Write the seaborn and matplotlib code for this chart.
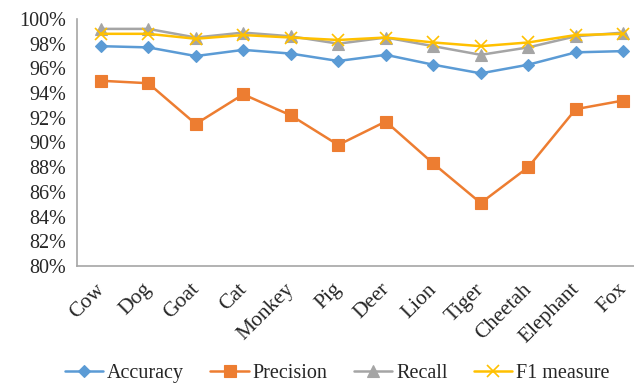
import matplotlib
matplotlib.use("Agg")
import matplotlib.pyplot as plt
import matplotlib.transforms as mtransforms
import seaborn as sns
import pandas as pd
from matplotlib.ticker import FuncFormatter, MultipleLocator, FixedLocator

# Datos
animales = ["Cow", "Dog", "Goat", "Cat", "Monkey", "Pig", "Deer", "Lion",
            "Tiger", "Cheetah", "Elephant", "Fox"]
accuracy = [97.8, 97.7, 97.0, 97.5, 97.2, 96.6, 97.1, 96.3, 95.6, 96.3, 97.3, 97.4]
precision = [95.0, 94.8, 91.5, 93.9, 92.2, 89.8, 91.7, 88.3, 85.1, 88.0, 92.7, 93.4]
recall = [99.2, 99.2, 98.5, 98.9, 98.6, 98.0, 98.5, 97.8, 97.1, 97.7, 98.6, 98.9]
f1 = [98.8, 98.8, 98.4, 98.7, 98.5, 98.3, 98.5, 98.1, 97.8, 98.1, 98.7, 98.8]

series = {
    "Accuracy": (accuracy, "#5B9BD5", "D", 6.5),
    "Precision": (precision, "#ED7D31", "s", 8),
    "Recall": (recall, "#A5A5A5", "^", 8),
    "F1 measure": (f1, "#FFC000", "x", 8),
}

sns.set_theme(style="white")
plt.rcParams["font.family"] = ["Liberation Serif", "DejaVu Serif"]

fig = plt.figure(figsize=(6.34, 3.83), dpi=100)
ax = fig.add_axes([77 / 634, 1 - 266 / 383, (647 - 77) / 634, (266 - 19) / 383])

x = list(range(len(animales)))
for nombre, (valores, color, marcador, tam) in series.items():
    df = pd.DataFrame({"x": x, "y": valores})
    sns.lineplot(data=df, x="x", y="y", ax=ax, color=color, marker=marcador,
                 markersize=tam, linewidth=1.8, label=nombre,
                 markeredgecolor=color, markeredgewidth=1.2 if marcador == "x" else 0.8)

ax.set_xlim(-0.5, len(animales) - 0.5)
ax.set_ylim(80, 100)
ax.yaxis.set_major_locator(MultipleLocator(2))
ax.yaxis.set_major_formatter(FuncFormatter(lambda v, p: f"{v:.0f}%"))
ax.set_xticks(x)
ax.set_xticklabels(animales, rotation=45, ha="right", rotation_mode="anchor")
ax.xaxis.set_minor_locator(FixedLocator([i - 0.5 for i in range(len(animales) + 1)]))
ax.tick_params(axis="x", which="major", length=0, labelsize=15.5, pad=10)
ax.tick_params(axis="x", which="minor", length=5, color="#A6A6A6", width=1.2, direction="out")
ax.tick_params(axis="y", length=5, color="#A6A6A6", width=1.2, direction="out", labelsize=14.5, pad=3)
ax.set_xlabel("")
ax.set_ylabel("")

# desplazar las etiquetas un poco a la izquierda
desplazamiento = mtransforms.ScaledTranslation(-6 / 100, 0, fig.dpi_scale_trans)
for etiqueta in ax.get_xticklabels():
    etiqueta.set_transform(etiqueta.get_transform() + desplazamiento)

for lado in ["top", "right"]:
    ax.spines[lado].set_visible(False)
for lado in ["left", "bottom"]:
    ax.spines[lado].set_color("#A6A6A6")
    ax.spines[lado].set_linewidth(1.2)

# Leyenda abajo, en coordenadas de la figura
handles, labels = ax.get_legend_handles_labels()
ax.get_legend().remove()
fig.legend(handles, labels, loc="center", bbox_to_anchor=(0.532, 0.026),
           ncol=4, frameon=False, fontsize=14.5, handlelength=1.9, columnspacing=1.3,
           handletextpad=0.2, borderaxespad=0)

fig.savefig("out.png", dpi=100)
